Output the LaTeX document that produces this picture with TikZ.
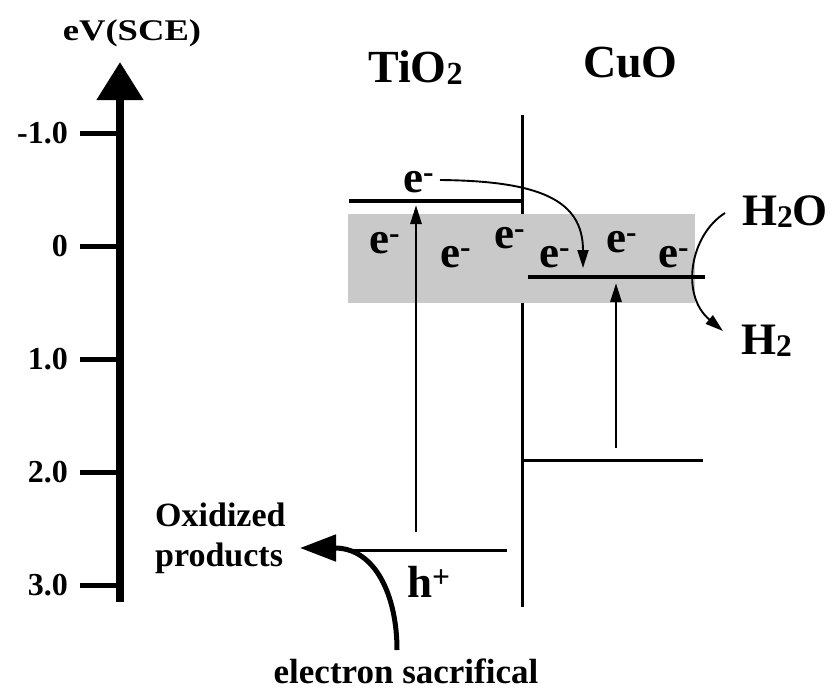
\documentclass[tikz,border=0pt]{standalone}
\usepackage{fontspec}
\setmainfont{Liberation Serif}
\usetikzlibrary{arrows.meta,positioning}
\definecolor{Band}{HTML}{C9C9C9}
\newcommand\chsub[1]{\raisebox{-0.05em}{\scalebox{0.7}{#1}}}
\tikzset{
  axis/.style={line width=8pt,-{Triangle[width=45pt,length=38pt]}},
  tick/.style={line width=5pt},
  level/.style={line width=3pt},
  cblevel/.style={line width=4pt},
  excite/.style={line width=2.8pt,-{Triangle[width=11pt,length=19pt]}},
  transfer/.style={line width=1.9pt,-{Triangle[width=11pt,length=18pt]}},
  sacrifice/.style={line width=5pt,-{Triangle[width=26pt,length=36pt]}},
  ticklbl/.style={font=\bfseries\fontsize{32}{36}\selectfont,anchor=east,inner sep=0pt},
  phase/.style={font=\bfseries\fontsize{46}{50}\selectfont,anchor=base west,inner sep=0pt},
  elec/.style={font=\bfseries\fontsize{45}{50}\selectfont,anchor=base west,inner sep=0pt},
  species/.style={font=\bfseries\fontsize{45}{50}\selectfont,anchor=base west,inner sep=0pt},
  note/.style={font=\bfseries\fontsize{34}{40}\selectfont,inner sep=0pt}
}

\begin{document}
\begin{tikzpicture}[x=1pt,y=-1pt]
  \useasboundingbox (0,0) rectangle (835,697);

  % energy scale
  \coordinate (axbot) at (120,602);
  \coordinate (axtop) at (120,62);
  \draw[axis] (axbot) -- (axtop);
  \node[note,font=\bfseries\fontsize{30}{34}\selectfont,anchor=base] (scale) at (132,40) {\scalebox{1.22}[1]{eV(SCE)}};
  \foreach \v/\t in {-1/-1.0,0/0,1/1.0,2/2.0,3/3.0}{
    \coordinate (tk\v) at (120,{246+113*\v});
    \coordinate (ts\v) at (80,{246+113*\v});
    \draw[tick] (ts\v) -- (tk\v);
    \node[ticklbl] (lb\v) at (68,{246+113*\v}) {\t};
  }

  \node[phase] (tio2) at (368,82) {TiO\chsub{2}};
  \node[phase] (cuo) at (583,77) {CuO};

  % interface and band edges
  \coordinate (ifTop) at (522,115);
  \coordinate (ifBot) at (522,607);
  \draw[level] (ifTop) -- (ifBot);
  \fill[Band] (348,214) rectangle (695,303);

  \coordinate (tcbL) at (349,201);
  \coordinate (tcbR) at (522,201);
  \coordinate (tvbL) at (353,550);
  \coordinate (tvbR) at (507,550);
  \coordinate (ccbL) at (528,277);
  \coordinate (ccbR) at (705,277);
  \coordinate (cvbL) at (522,460);
  \coordinate (cvbR) at (703,460);
  \draw[cblevel] (tcbL) -- (tcbR);
  \draw[level] (tvbL) -- (tvbR);
  \draw[cblevel] (ccbL) -- (ccbR);
  \draw[level] (cvbL) -- (cvbR);

  % excitation
  \coordinate (tioFrom) at (416,532);
  \coordinate (tioTo) at (416,205);
  \coordinate (cuoFrom) at (616,448);
  \coordinate (cuoTo) at (616,283);
  \draw[excite] (tioFrom) -- (tioTo);
  \draw[excite] (cuoFrom) -- (cuoTo);

  % electrons
  \node[elec] (etop) at (403,192) {e\textsuperscript{-}};
  \node[elec] (e1) at (369,253) {e\textsuperscript{-}};
  \node[elec] (e2) at (440,267) {e\textsuperscript{-}};
  \node[elec] (e3) at (494,248) {e\textsuperscript{-}};
  \node[elec] (e4) at (539,267) {e\textsuperscript{-}};
  \node[elec] (e5) at (606,252) {e\textsuperscript{-}};
  \node[elec] (e6) at (658,267) {e\textsuperscript{-}};
  \node[elec] (hole) at (407,597) {h\textsuperscript{+}};

  \coordinate (eFrom) at (440,180);
  \coordinate (eTo) at (583,268);
  \draw[transfer] (eFrom) .. controls (540,181) and (583,200) .. (eTo);

  % water reduction
  \node[species] (h2o) at (742,225) {H\chsub{2}O};
  \node[species] (h2) at (741,354) {H\chsub{2}};
  \coordinate (wFrom) at (725,213);
  \coordinate (wTo) at (723,331);
  \draw[transfer] (wFrom) .. controls (690,235) and (680,295) .. (wTo);

  % sacrificial agent
  \node[note,align=left,anchor=north west] (oxprod) at (155,503) {Oxidized\\products};
  \node[note,font=\bfseries\fontsize{35}{40}\selectfont,anchor=base] (sacr) at (406,683) {electron sacrifical};
  \coordinate (sFrom) at (397,650);
  \coordinate (sTo) at (300,548);
  \draw[sacrifice] (sFrom) .. controls (397,595) and (375,548) .. (sTo);
\end{tikzpicture}
\end{document}
